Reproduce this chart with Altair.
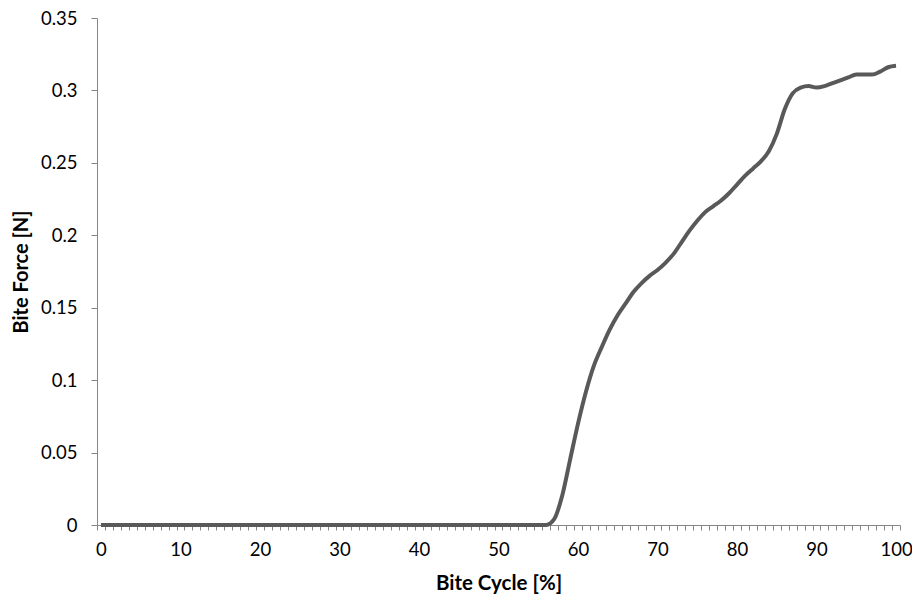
import altair as alt
import pandas as pd

# ---- data ----
cycle = list(range(0, 101))
force = [
    0, 0, 0, 0, 0, 0, 0, 0, 0, 0,
    0, 0, 0, 0, 0, 0, 0, 0, 0, 0,
    0, 0, 0, 0, 0, 0, 0, 0, 0, 0,
    0, 0, 0, 0, 0, 0, 0, 0, 0, 0,
    0, 0, 0, 0, 0, 0, 0, 0, 0, 0,
    0, 0, 0, 0, 0, 0, 0,
    0.004, 0.02, 0.045, 0.07, 0.092, 0.11, 0.123, 0.135, 0.145, 0.153,
    0.161, 0.167, 0.172, 0.176, 0.181, 0.187, 0.195, 0.203, 0.21, 0.216,
    0.22, 0.224, 0.229, 0.235, 0.241, 0.246, 0.251, 0.258, 0.27, 0.287,
    0.298, 0.302, 0.303, 0.302, 0.303, 0.305, 0.307, 0.309, 0.311, 0.311,
    0.311, 0.313, 0.316, 0.317,
]
x_labels = [0, 10, 20, 30, 40, 50, 60, 70, 80, 90, 100]
y_labels = [0, 0.05, 0.1, 0.15, 0.2, 0.25, 0.3, 0.35]
x_minor = [i - 0.5 for i in range(0, 102)]

df = pd.DataFrame({"cycle": cycle, "force": force})

FONT = "Lato"
AXIS_COLOR = "#868686"
TEXT_COLOR = "#000000"

xscale = alt.Scale(domain=[-0.5, 100.5], nice=False, zero=False)
yscale = alt.Scale(domain=[0, 0.35], nice=False)

yaxis = alt.Axis(
    values=y_labels, format="~g", title="Bite Force [N]", grid=False,
    domainColor=AXIS_COLOR, tickColor=AXIS_COLOR, tickSize=6, labelPadding=14,
    labelFont=FONT, labelFontSize=18.5, labelColor=TEXT_COLOR,
    titleFont=FONT, titleFontSize=20, titleFontWeight="bold", titleColor=TEXT_COLOR,
    titlePadding=9,
)

base = alt.Chart(df)

tick_layer = base.mark_line(opacity=0).encode(
    x=alt.X("cycle:Q", scale=xscale, axis=alt.Axis(
        values=x_minor, labels=False, title=None, grid=False, orient="bottom",
        domainColor=AXIS_COLOR, tickColor=AXIS_COLOR, tickSize=5, domainWidth=1.2,
    )),
    y=alt.Y("force:Q", scale=yscale, axis=yaxis),
)

line_layer = base.mark_line(color="#595959", strokeWidth=4, interpolate="monotone").encode(
    x=alt.X("cycle:Q", scale=xscale, axis=alt.Axis(
        values=x_labels, ticks=False, domain=False, grid=False, orient="bottom",
        title="Bite Cycle [%]", labelPadding=15,
        labelFont=FONT, labelFontSize=18.5, labelColor=TEXT_COLOR,
        titleFont=FONT, titleFontSize=20.5, titleFontWeight="bold", titleColor=TEXT_COLOR,
        titlePadding=15,
    )),
    y=alt.Y("force:Q", scale=yscale, axis=yaxis),
)

chart = alt.layer(tick_layer, line_layer).resolve_axis(x="independent").properties(
    width=803, height=507,
    padding={"left": 97, "top": 18, "right": 12, "bottom": 76},
    autosize=alt.AutoSizeParams(type="none"),
    background="white",
).configure_view(stroke=None)

chart.save("out.html", embed_options={"renderer": "svg", "actions": False})
